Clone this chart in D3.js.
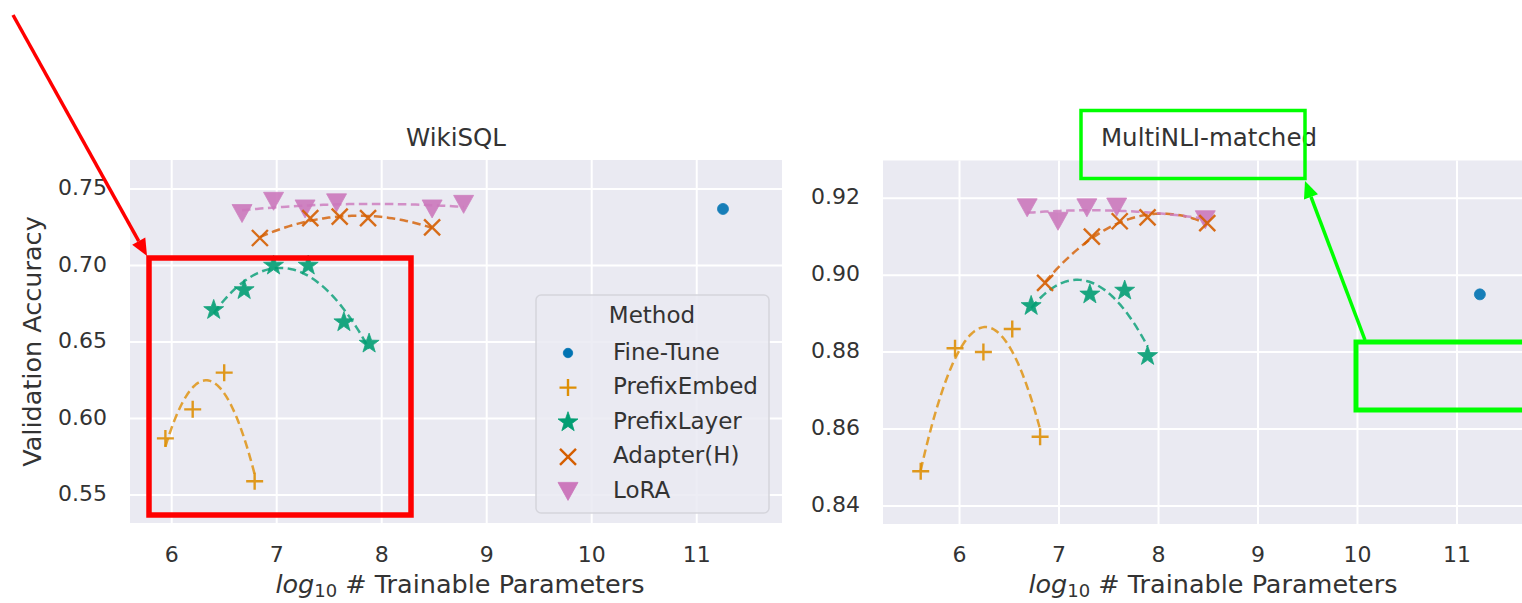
<!DOCTYPE html>
<html>
<head>
<meta charset="utf-8">
<script src="https://cdn.jsdelivr.net/npm/d3@7"></script>
<style>
  body { margin: 0; background: #ffffff; }
  text { font-family: "DejaVu Sans", sans-serif; }
</style>
</head>
<body>
<svg id="svg"></svg>
<script>
// Data

var methods = ["Fine-Tune", "PrefixEmbed", "PrefixLayer", "Adapter(H)", "LoRA"];
var xTicks = [6, 7, 8, 9, 10, 11];
var wikiYTicks = [0.55, 0.60, 0.65, 0.70, 0.75];
var mnliYTicks = [0.84, 0.86, 0.88, 0.90, 0.92];

// WikiSQL
var wikiFineTuneX = [11.25];
var wikiFineTuneY = [0.737];
var wikiPrefixEmbedX = [5.94, 6.20, 6.50, 6.79];
var wikiPrefixEmbedY = [0.587, 0.606, 0.630, 0.559];
var wikiPrefixLayerX = [6.40, 6.69, 6.97, 7.30, 7.64, 7.88];
var wikiPrefixLayerY = [0.671, 0.684, 0.700, 0.700, 0.663, 0.649];
var wikiAdapterX = [6.84, 7.32, 7.60, 7.87, 8.48];
var wikiAdapterY = [0.718, 0.731, 0.732, 0.731, 0.725];
var wikiLoraX = [6.67, 6.97, 7.27, 7.57, 8.48, 8.78];
var wikiLoraY = [0.734, 0.742, 0.737, 0.741, 0.737, 0.740];

// MultiNLI-matched
var mnliFineTuneX = [11.23];
var mnliFineTuneY = [0.895];
var mnliPrefixEmbedX = [5.61, 5.955, 6.24, 6.53, 6.81];
var mnliPrefixEmbedY = [0.849, 0.881, 0.880, 0.886, 0.858];
var mnliPrefixLayerX = [6.72, 7.31, 7.66, 7.89];
var mnliPrefixLayerY = [0.892, 0.895, 0.896, 0.879];
var mnliAdapterX = [6.86, 7.33, 7.61, 7.89, 8.49];
var mnliAdapterY = [0.898, 0.910, 0.914, 0.915, 0.9135];
var mnliLoraX = [6.68, 6.99, 7.28, 7.58, 8.47];
var mnliLoraY = [0.9175, 0.914, 0.9175, 0.9177, 0.9144];

// Style
var methodColors = ["#0173b2", "#de8f05", "#029e73", "#d55e00", "#cc78bc"];
var bgColor = "#eaeaf2";
var gridColor = "#ffffff";
var textColor = "#333333";
var markerOpacity = 0.9;

var width = 1522;
var height = 603;
var svg = d3.select("#svg")
    .attr("width", width)
    .attr("height", height);

var panels = [
  {
    title: "WikiSQL",
    left: 130, right: 782, top: 160, bottom: 523,
    xDomain: [5.603, 11.812], yDomain: [0.5317, 0.769],
    yTicks: wikiYTicks, ylabel: true, legend: true,
    xs: [wikiFineTuneX, wikiPrefixEmbedX, wikiPrefixLayerX, wikiAdapterX, wikiLoraX],
    ys: [wikiFineTuneY, wikiPrefixEmbedY, wikiPrefixLayerY, wikiAdapterY, wikiLoraY]
  },
  {
    title: "MultiNLI-matched",
    left: 883, right: 1535, top: 160.5, bottom: 524,
    xDomain: [5.231, 11.784], yDomain: [0.8353, 0.9298],
    yTicks: mnliYTicks, ylabel: false, legend: false,
    xs: [mnliFineTuneX, mnliPrefixEmbedX, mnliPrefixLayerX, mnliAdapterX, mnliLoraX],
    ys: [mnliFineTuneY, mnliPrefixEmbedY, mnliPrefixLayerY, mnliAdapterY, mnliLoraY]
  }
];

// quadratic least squares, like np.polyfit(x, y, 2)
function polyfit2(xs, ys) {
  var s = [0, 0, 0, 0, 0], t = [0, 0, 0];
  for (var i = 0; i < xs.length; i++) {
    var p = 1;
    for (var k = 0; k < 5; k++) { s[k] += p; if (k < 3) t[k] += p * ys[i]; p *= xs[i]; }
  }
  var m = [[s[0], s[1], s[2]], [s[1], s[2], s[3]], [s[2], s[3], s[4]]];
  function det(a) {
    return a[0][0] * (a[1][1] * a[2][2] - a[1][2] * a[2][1])
         - a[0][1] * (a[1][0] * a[2][2] - a[1][2] * a[2][0])
         + a[0][2] * (a[1][0] * a[2][1] - a[1][1] * a[2][0]);
  }
  var d = det(m);
  var c = [];
  for (var j = 0; j < 3; j++) {
    var mj = m.map(function(row, r) { return row.map(function(v, cc) { return cc == j ? t[r] : v; }); });
    c.push(det(mj) / d);
  }
  return function(x) { return c[0] + c[1] * x + c[2] * x * x; };
}

// marker paths, centred on 0,0
function markerPath(i) {
  if (i == 0) return d3.symbol().type(d3.symbolCircle).size(95)();
  if (i == 1) return "M-8.5,0L8.5,0M0,-8.5L0,8.5";
  if (i == 2) {
    var pts = [];
    for (var k = 0; k < 10; k++) {
      var r = k % 2 == 0 ? 10.5 : 4.2;
      var a = -Math.PI / 2 + k * Math.PI / 5;
      pts.push([r * Math.cos(a), r * Math.sin(a)]);
    }
    return "M" + pts.join("L") + "Z";
  }
  if (i == 3) return "M-8,-8L8,8M-8,8L8,-8";
  return "M-10,-9L10,-9L0,9Z";
}

function drawMarker(sel, i) {
  var m = sel.append("path").attr("d", markerPath(i));
  if (i == 1 || i == 3) {
    m.attr("fill", "none").attr("stroke", methodColors[i]).attr("stroke-width", 2.4);
  } else {
    m.attr("fill", methodColors[i]).attr("stroke", methodColors[i]).attr("stroke-width", 0.8);
  }
  return m;
}

function drawPanel(p) {
  var x = d3.scaleLinear().domain(p.xDomain).range([p.left, p.right]);
  var y = d3.scaleLinear().domain(p.yDomain).range([p.bottom, p.top]);
  var g = svg.append("g");

  g.append("rect")
    .attr("x", p.left).attr("y", p.top)
    .attr("width", p.right - p.left).attr("height", p.bottom - p.top)
    .attr("fill", bgColor);

  // grid
  g.selectAll(".gx").data(xTicks).enter().append("line")
    .attr("x1", function(d) { return x(d); }).attr("x2", function(d) { return x(d); })
    .attr("y1", p.top).attr("y2", p.bottom)
    .attr("stroke", gridColor).attr("stroke-width", 2);
  g.selectAll(".gy").data(p.yTicks).enter().append("line")
    .attr("x1", p.left).attr("x2", p.right)
    .attr("y1", function(d) { return y(d); }).attr("y2", function(d) { return y(d); })
    .attr("stroke", gridColor).attr("stroke-width", 2);

  // tick labels
  g.selectAll(".tx").data(xTicks).enter().append("text")
    .attr("x", function(d) { return x(d); }).attr("y", 556)
    .attr("text-anchor", "middle").attr("dominant-baseline", "middle")
    .attr("font-size", 22).attr("fill", textColor)
    .text(function(d) { return d; });
  g.selectAll(".ty").data(p.yTicks).enter().append("text")
    .attr("x", p.left - 23).attr("y", function(d) { return y(d); })
    .attr("text-anchor", "end").attr("dominant-baseline", "middle")
    .attr("font-size", 22).attr("fill", textColor)
    .text(d3.format(".2f"));

  // title
  g.append("text")
    .attr("x", (p.left + p.right) / 2).attr("y", 139)
    .attr("text-anchor", "middle").attr("dominant-baseline", "middle")
    .attr("font-size", 24.5).attr("fill", textColor)
    .text(p.title);

  // x label
  var xl = g.append("text")
    .attr("x", (p.left + p.right) / 2 + 4).attr("y", 593)
    .attr("text-anchor", "middle")
    .attr("font-size", 25.5).attr("fill", textColor);
  xl.append("tspan").attr("font-style", "italic").text("log");
  xl.append("tspan").attr("font-size", 18).attr("dy", 4).text("10");
  xl.append("tspan").attr("dy", -4).text(" # Trainable Parameters");

  if (p.ylabel) {
    g.append("text")
      .attr("transform", "translate(34," + ((p.top + p.bottom) / 2) + ") rotate(-90)")
      .attr("text-anchor", "middle").attr("dominant-baseline", "middle")
      .attr("font-size", 25.5).attr("fill", textColor)
      .text("Validation Accuracy");
  }

  // fitted dashed curves
  var line = d3.line().x(function(d) { return x(d[0]); }).y(function(d) { return y(d[1]); });
  for (var i = 1; i < methods.length; i++) {
    var f = polyfit2(p.xs[i], p.ys[i]);
    var lo = d3.min(p.xs[i]), hi = d3.max(p.xs[i]);
    var pts = d3.range(0, 61).map(function(k) { var xv = lo + (hi - lo) * k / 60; return [xv, f(xv)]; });
    g.append("path")
      .attr("d", line(pts))
      .attr("fill", "none")
      .attr("stroke", methodColors[i])
      .attr("stroke-width", 2.5)
      .attr("stroke-dasharray", "8.5,4.5")
      .attr("opacity", 0.8);
  }

  // markers
  var order = [0, 1, 2, 4, 3];
  order.forEach(function(i) {
    var pts = p.xs[i].map(function(v, k) { return [v, p.ys[i][k]]; });
    pts.forEach(function(d) {
      var mg = g.append("g")
        .attr("transform", "translate(" + x(d[0]) + "," + y(d[1]) + ")")
        .attr("opacity", markerOpacity);
      drawMarker(mg, i);
    });
  });

  if (p.legend) drawLegend(g);
}

function drawLegend(g) {
  g.append("rect")
    .attr("x", 536).attr("y", 295)
    .attr("width", 233).attr("height", 218)
    .attr("rx", 5)
    .attr("fill", bgColor).attr("fill-opacity", 0.85)
    .attr("stroke", "#d5d5dc").attr("stroke-width", 1.5);
  g.append("text")
    .attr("x", 652).attr("y", 316)
    .attr("text-anchor", "middle").attr("dominant-baseline", "middle")
    .attr("font-size", 23).attr("fill", textColor)
    .text("Method");
  methods.forEach(function(m, i) {
    var yy = 353 + i * 34.6;
    var mg = g.append("g").attr("transform", "translate(568," + yy + ")");
    drawMarker(mg, i);
    if (i == 0) mg.select("path").attr("d", d3.symbol().type(d3.symbolCircle).size(70)());
    g.append("text")
      .attr("x", 613).attr("y", yy)
      .attr("dominant-baseline", "middle")
      .attr("font-size", 23).attr("fill", textColor)
      .text(m);
  });
}

function arrow(x1, y1, x2, y2, color, w, len, half) {
  var a = Math.atan2(y2 - y1, x2 - x1);
  var bx = x2 - len * Math.cos(a), by = y2 - len * Math.sin(a);
  svg.append("line")
    .attr("x1", x1).attr("y1", y1).attr("x2", bx).attr("y2", by)
    .attr("stroke", color).attr("stroke-width", w);
  svg.append("path")
    .attr("d", "M" + x2 + "," + y2 +
      "L" + (bx + half * Math.sin(a)) + "," + (by - half * Math.cos(a)) +
      "L" + (bx - half * Math.sin(a)) + "," + (by + half * Math.cos(a)) + "Z")
    .attr("fill", color);
}

panels.forEach(drawPanel);

// annotations drawn over the figure
svg.append("rect")
  .attr("x", 149).attr("y", 258).attr("width", 262).attr("height", 257)
  .attr("fill", "none").attr("stroke", "#ff0000").attr("stroke-width", 5.5);
arrow(13, 15, 147, 256, "#ff0000", 3.5, 17, 7.5);

svg.append("rect")
  .attr("x", 1081).attr("y", 110.5).attr("width", 224).attr("height", 68)
  .attr("fill", "none").attr("stroke", "#00ff00").attr("stroke-width", 3.5);
svg.append("rect")
  .attr("x", 1356).attr("y", 342).attr("width", 200).attr("height", 68)
  .attr("fill", "none").attr("stroke", "#00ff00").attr("stroke-width", 5);
arrow(1365, 340, 1305, 181, "#00ff00", 3.5, 17, 7.5);
</script>
</body>
</html>
